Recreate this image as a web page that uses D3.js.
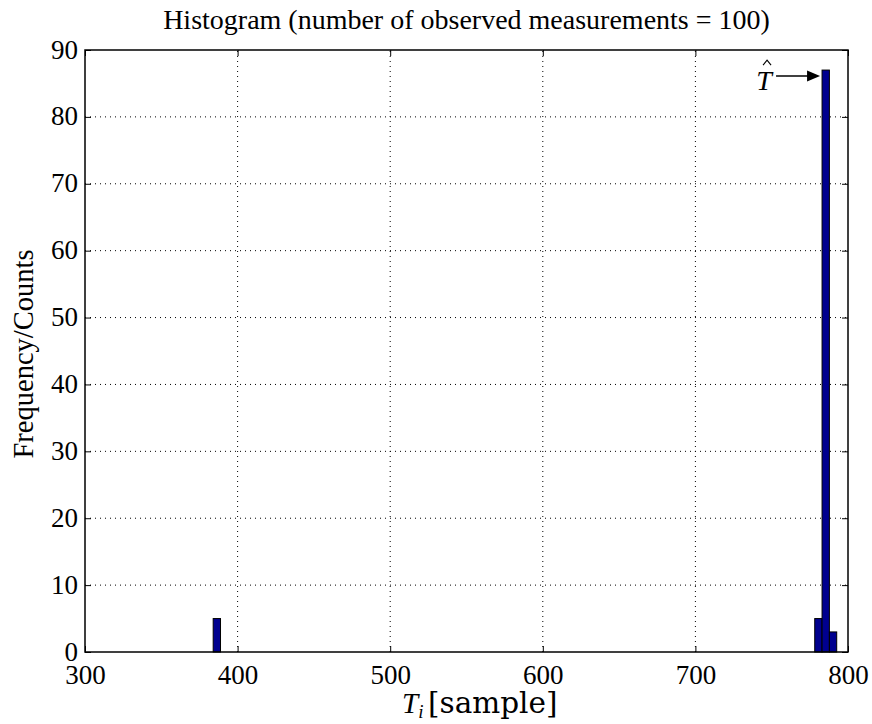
<!DOCTYPE html>
<html>
<head>
<meta charset="utf-8">
<script src="https://cdn.jsdelivr.net/npm/d3@7"></script>
<style>
  body { margin: 0; background: #fff; }
  svg { display: block; }
  text { font-family: "Liberation Serif", "DejaVu Serif", serif; fill: #000; }
</style>
</head>
<body>
<div id="chart"></div>
<script>
// Histogram bins: left edge of each bin, the shared bin width and counts
const binStarts = [384.0, 778.2, 783.0, 787.8];
const binWidth = 4.8;
const counts = [5, 5, 87, 3];

const xTicks = [300, 400, 500, 600, 700, 800];
const yTicks = [0, 10, 20, 30, 40, 50, 60, 70, 80, 90];
const xDomain = [300, 800];
const yDomain = [0, 90];

// Annotation marking the estimated period at the tallest bin
const peakIndex = 2;

const W = 872, H = 724;
const margin = { left: 85, right: 24, top: 50, bottom: 72 };

const svg = d3.select("#chart").append("svg")
  .attr("width", W).attr("height", H);

const x = d3.scaleLinear().domain(xDomain).range([margin.left, W - margin.right]);
const y = d3.scaleLinear().domain(yDomain).range([H - margin.bottom, margin.top]);

const x0 = x.range()[0], x1 = x.range()[1];
const y0 = y.range()[0], y1 = y.range()[1];

// Dotted grid
const grid = svg.append("g");
grid.selectAll(".gx").data(xTicks.filter(t => t > xDomain[0] && t < xDomain[1]))
  .enter().append("line")
  .attr("x1", d => x(d)).attr("x2", d => x(d))
  .attr("y1", y0).attr("y2", y1)
  .attr("stroke", "#000").attr("stroke-width", 1)
  .attr("stroke-dasharray", "1,4");
grid.selectAll(".gy").data(yTicks.filter(t => t > yDomain[0] && t < yDomain[1]))
  .enter().append("line")
  .attr("x1", x0).attr("x2", x1)
  .attr("y1", d => y(d)).attr("y2", d => y(d))
  .attr("stroke", "#000").attr("stroke-width", 1)
  .attr("stroke-dasharray", "1,4");

// Bars
svg.append("g").selectAll("rect").data(counts.map((c, i) => ({ s: binStarts[i], c })))
  .enter().append("rect")
  .attr("x", d => x(d.s))
  .attr("width", d => x(d.s + binWidth) - x(d.s))
  .attr("y", d => y(d.c))
  .attr("height", d => y(0) - y(d.c))
  .attr("fill", "#00008f")
  .attr("stroke", "#000")
  .attr("stroke-width", 1);

// Axes with inward ticks on all four sides
const tickLen = 6;
const axisFont = "27px";

const axBottom = svg.append("g").attr("transform", `translate(0,${y0})`)
  .call(d3.axisBottom(x).tickValues(xTicks).tickSize(-tickLen).tickSizeOuter(0));
const axTop = svg.append("g").attr("transform", `translate(0,${y1})`)
  .call(d3.axisTop(x).tickValues(xTicks).tickSize(-tickLen).tickFormat("").tickSizeOuter(0));
const axLeft = svg.append("g").attr("transform", `translate(${x0},0)`)
  .call(d3.axisLeft(y).tickValues(yTicks).tickSize(-tickLen).tickSizeOuter(0));
const axRight = svg.append("g").attr("transform", `translate(${x1},0)`)
  .call(d3.axisRight(y).tickValues(yTicks).tickSize(-tickLen).tickFormat("").tickSizeOuter(0));

[axBottom, axTop, axLeft, axRight].forEach(g => {
  g.attr("font-family", null).attr("font-size", null);
  g.select(".domain").remove();
  g.selectAll(".tick line").attr("stroke", "#000").attr("stroke-width", 1);
  g.selectAll(".tick text").style("font-size", axisFont)
    .style("font-family", "'Liberation Serif', serif").attr("fill", "#000");
});
axBottom.selectAll(".tick text").attr("dy", null).attr("y", 32);
axLeft.selectAll(".tick text").attr("x", -7).attr("dy", "0.3em");

// Frame
svg.append("rect")
  .attr("x", x0).attr("y", y1)
  .attr("width", x1 - x0).attr("height", y0 - y1)
  .attr("fill", "none").attr("stroke", "#000").attr("stroke-width", 1.5);

// Title
svg.append("text")
  .attr("x", (x0 + x1) / 2).attr("y", 29)
  .attr("text-anchor", "middle")
  .style("font-size", "28px")
  .text("Histogram (number of observed measurements = 100)");

// Y label
svg.append("text")
  .attr("transform", `translate(33,${(y0 + y1) / 2 + 3}) rotate(-90)`)
  .attr("text-anchor", "middle")
  .style("font-size", "28.5px")
  .text("Frequency/Counts");

// X label: T_i [sample]; the unit is typeset in a wider serif
const xl = svg.append("text")
  .attr("x", 402).attr("y", 713)
  .attr("text-anchor", "start")
  .style("font-size", "29px");
xl.append("tspan").style("font-style", "italic").text("T");
xl.append("tspan").style("font-style", "italic").style("font-size", "19px").attr("dy", 5).text("i");
xl.append("tspan").attr("x", 428).attr("dy", -5)
  .style("font-family", "'DejaVu Serif', serif").style("font-size", "29.5px")
  .text("[sample]");

// Arrow annotation pointing at the peak bin
const peakX = x(binStarts[peakIndex]);
const peakY = y(counts[peakIndex]);
const arrowY = peakY + 6;
const ann = svg.append("g");
ann.append("line")
  .attr("x1", peakX - 46).attr("x2", peakX - 14)
  .attr("y1", arrowY).attr("y2", arrowY)
  .attr("stroke", "#000").attr("stroke-width", 1.5);
ann.append("path")
  .attr("d", `M${peakX - 2},${arrowY} L${peakX - 15},${arrowY - 5.5} L${peakX - 15},${arrowY + 5.5} Z`)
  .attr("fill", "#000");
ann.append("text")
  .attr("x", peakX - 58).attr("y", arrowY + 14)
  .attr("text-anchor", "middle")
  .style("font-size", "28px")
  .style("font-style", "italic")
  .text("T");
// circumflex accent over the T
const hx = peakX - 55, hy = arrowY - 14;
ann.append("path")
  .attr("d", `M${hx - 4},${hy + 3} L${hx},${hy - 2} L${hx + 4},${hy + 3}`)
  .attr("fill", "none").attr("stroke", "#000").attr("stroke-width", 1.1);
</script>
</body>
</html>
